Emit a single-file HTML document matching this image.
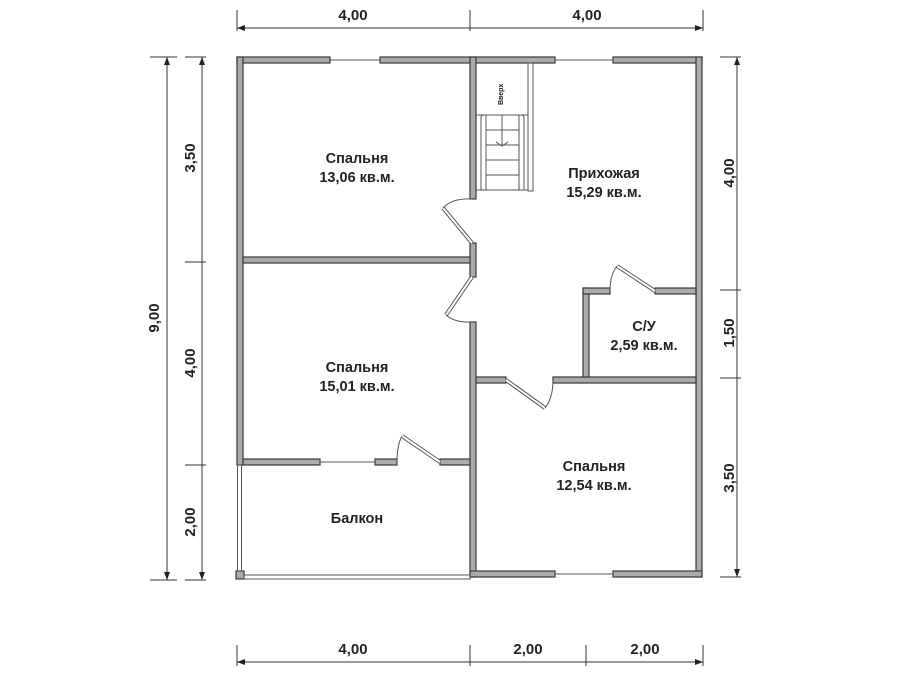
<!DOCTYPE html>
<html><head><meta charset="utf-8"><style>
html,body{margin:0;padding:0;background:#fff;}
svg{display:block;}
text{font-family:"Liberation Sans",sans-serif;font-weight:bold;fill:#222;}
</style></head><body>
<svg width="900" height="675" viewBox="0 0 900 675" xmlns="http://www.w3.org/2000/svg">
<defs>
<marker id="a" markerWidth="8" markerHeight="6" refX="8" refY="3" orient="auto" markerUnits="userSpaceOnUse"><path d="M0,0 L8,3 L0,6z" fill="#222"/></marker>
<marker id="b" markerWidth="8" markerHeight="6" refX="0" refY="3" orient="auto" markerUnits="userSpaceOnUse"><path d="M8,0 L0,3 L8,6z" fill="#222"/></marker>
</defs>
<g fill="#ababab" stroke="#3a3a3a" stroke-width="1.2">
<rect x="237" y="57" width="93" height="6"/>
<rect x="380" y="57" width="175" height="6"/>
<rect x="613" y="57" width="89" height="6"/>
<rect x="237" y="57" width="6" height="408"/>
<rect x="696" y="57" width="6" height="520"/>
<rect x="470" y="57" width="6" height="142"/>
<rect x="470" y="243" width="6" height="34"/>
<rect x="470" y="322" width="6" height="255"/>
<rect x="243" y="257" width="227" height="6"/>
<rect x="243" y="459" width="77" height="6"/>
<rect x="375" y="459" width="22" height="6"/>
<rect x="440" y="459" width="30" height="6"/>
<rect x="470" y="571" width="85" height="6"/>
<rect x="613" y="571" width="89" height="6"/>
<rect x="476" y="377" width="30" height="6"/>
<rect x="553" y="377" width="143" height="6"/>
<rect x="583" y="288" width="6" height="89"/>
<rect x="583" y="288" width="27" height="6"/>
<rect x="655" y="288" width="41" height="6"/>
<rect x="236" y="571" width="8" height="8"/>
</g>
<g stroke="#555" stroke-width="1" fill="none">
<line x1="330" y1="60" x2="380" y2="60"/>
<line x1="555" y1="60" x2="613" y2="60"/>
<line x1="555" y1="574" x2="613" y2="574"/>
<line x1="320" y1="462" x2="375" y2="462"/>
<rect x="237.5" y="465" width="4" height="106"/>
<rect x="244" y="575" width="226" height="4"/>
<path d="M472,243 L443,208" stroke-width="4" stroke="#555"/>
<path d="M472,243 L443,208" stroke-width="2" stroke="#fff"/>
<path d="M443,208 Q452,198 472,199"/>
<path d="M472,277 L446,315" stroke-width="4" stroke="#555"/>
<path d="M472,277 L446,315" stroke-width="2" stroke="#fff"/>
<path d="M446,315 Q455,323 472,322"/>
<path d="M506,380 L545,408" stroke-width="4" stroke="#555"/>
<path d="M506,380 L545,408" stroke-width="2" stroke="#fff"/>
<path d="M545,408 Q553,398 553,380"/>
<path d="M655,291 L617,266" stroke-width="4" stroke="#555"/>
<path d="M655,291 L617,266" stroke-width="2" stroke="#fff"/>
<path d="M617,266 Q610,275 610,291"/>
<path d="M440,462 L402,436" stroke-width="4" stroke="#555"/>
<path d="M440,462 L402,436" stroke-width="2" stroke="#fff"/>
<path d="M402,436 Q397,445 397,462"/>
<rect x="528" y="63" width="5" height="128"/>
<path d="M481,190 L481,118 Q481,115 484,115 L486,115 L486,190"/>
<path d="M524,190 L524,118 Q524,115 521,115 L519,115 L519,190"/>
<line x1="476" y1="115" x2="528" y2="115"/>
<line x1="486" y1="130" x2="519" y2="130"/>
<line x1="486" y1="145" x2="519" y2="145"/>
<line x1="486" y1="160" x2="519" y2="160"/>
<line x1="486" y1="175" x2="519" y2="175"/>
<line x1="476" y1="190" x2="528" y2="190"/>
<line x1="502" y1="115" x2="502" y2="145"/>
<path d="M496,142 L502,146 L508,142"/>
</g>
<text x="0" y="0" font-size="7" font-weight="normal" transform="translate(503,105) rotate(-90)">Вверх</text>
<g stroke="#333" stroke-width="1" fill="none">
<line x1="237" y1="28" x2="703" y2="28" marker-start="url(#b)" marker-end="url(#a)"/>
<line x1="237" y1="10" x2="237" y2="31"/><line x1="470" y1="10" x2="470" y2="31"/><line x1="703" y1="10" x2="703" y2="31"/>
<line x1="237" y1="662" x2="703" y2="662" marker-start="url(#b)" marker-end="url(#a)"/>
<line x1="237" y1="645" x2="237" y2="666"/><line x1="470" y1="645" x2="470" y2="666"/><line x1="586" y1="645" x2="586" y2="666"/><line x1="703" y1="645" x2="703" y2="666"/>
<line x1="167" y1="57" x2="167" y2="580" marker-start="url(#b)" marker-end="url(#a)"/>
<line x1="150" y1="57" x2="177" y2="57"/><line x1="150" y1="580" x2="177" y2="580"/>
<line x1="202" y1="57" x2="202" y2="580" marker-start="url(#b)" marker-end="url(#a)"/>
<line x1="185" y1="57" x2="206" y2="57"/><line x1="185" y1="262" x2="206" y2="262"/><line x1="185" y1="465" x2="206" y2="465"/><line x1="185" y1="580" x2="206" y2="580"/>
<line x1="737" y1="57" x2="737" y2="577" marker-start="url(#b)" marker-end="url(#a)"/>
<line x1="720" y1="57" x2="741" y2="57"/><line x1="720" y1="290" x2="741" y2="290"/><line x1="720" y1="378" x2="741" y2="378"/><line x1="720" y1="577" x2="741" y2="577"/>
</g>
<g font-size="15" text-anchor="middle">
<text x="353" y="20">4,00</text><text x="587" y="20">4,00</text>
<text x="353" y="654">4,00</text><text x="528" y="654">2,00</text><text x="645" y="654">2,00</text>
<text transform="translate(159,318) rotate(-90)">9,00</text>
<text transform="translate(195,158) rotate(-90)">3,50</text>
<text transform="translate(195,363) rotate(-90)">4,00</text>
<text transform="translate(195,522) rotate(-90)">2,00</text>
<text transform="translate(734,173) rotate(-90)">4,00</text>
<text transform="translate(734,333) rotate(-90)">1,50</text>
<text transform="translate(734,478) rotate(-90)">3,50</text>
</g>
<g font-size="14.5" text-anchor="middle">
<text x="357" y="163">Спальня</text><text x="357" y="182">13,06 кв.м.</text>
<text x="604" y="178">Прихожая</text><text x="604" y="197">15,29 кв.м.</text>
<text x="357" y="372">Спальня</text><text x="357" y="391">15,01 кв.м.</text>
<text x="644" y="331">С/У</text><text x="644" y="350">2,59 кв.м.</text>
<text x="594" y="471">Спальня</text><text x="594" y="490">12,54 кв.м.</text>
<text x="357" y="523">Балкон</text>
</g>
</svg>
</body></html>
